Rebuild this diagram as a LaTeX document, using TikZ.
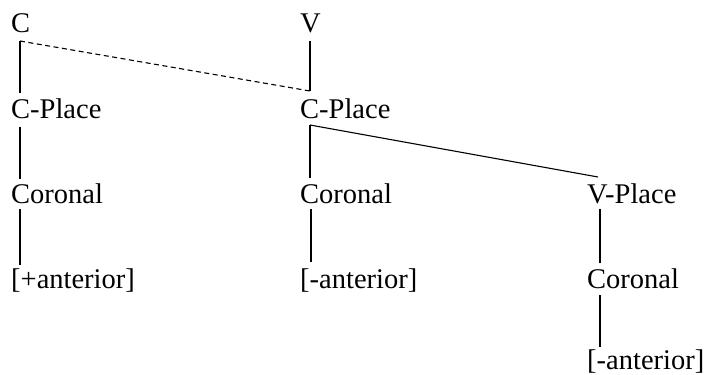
\documentclass[tikz,border=0pt]{standalone}
\usepackage{fontspec}
\setmainfont{Liberation Serif}
\tikzset{
  feat/.style={anchor=base west, inner sep=0pt, font=\fontsize{28.5bp}{32bp}\selectfont},
  assoc/.style={line width=1.1bp},
  link/.style={line width=1.1bp, dash pattern=on 5bp off 3.5bp}
}
\begin{document}
\begin{tikzpicture}[x=1bp, y=-1bp]
        \useasboundingbox (0,0) rectangle (707,374);

        % skeleton
        \node[feat] (c) at (11, 32) {C};
        \node[feat] (v) at (300, 32) {V};

        % place nodes
        \node[feat] (cplace1) at (11, 118) {C-Place};
        \node[feat] (cplace2) at (300, 118) {C-Place};

        \node[feat] (cor1) at (11, 203) {Coronal};
        \node[feat] (cor2) at (300, 203) {Coronal};
        \node[feat] (vplace) at (587, 203) {V-Place};

        \node[feat] (ant1) at (11, 288) {[+anterior]};
        \node[feat] (ant2) at (300, 288) {[-anterior]};
        \node[feat] (cor3) at (587, 288) {Coronal};
        \node[feat] (ant3) at (587, 369) {[-anterior]};

        % left column
        \draw[assoc] ([shift={(9,9)}]c.base west) -- ([shift={(9,-25)}]cplace1.base west);
        \draw[assoc] ([shift={(9,9)}]cplace1.base west) -- ([shift={(9,-24)}]cor1.base west);
        \draw[assoc] ([shift={(9,6)}]cor1.base west) -- ([shift={(9,-23)}]ant1.base west);

        % spreading link
        \draw[link] ([shift={(9,9)}]c.base west) -- ([shift={(10,-27)}]cplace2.base west);

        % middle column
        \draw[assoc] ([shift={(10,9)}]v.base west) -- ([shift={(10,-27)}]cplace2.base west);
        \draw[assoc] ([shift={(10,7)}]cplace2.base west) -- ([shift={(10,-25)}]cor2.base west);
        \draw[assoc] ([shift={(10,7)}]cplace2.base west) -- ([shift={(11,-26)}]vplace.base west);
        \draw[assoc] ([shift={(11,6)}]cor2.base west) -- ([shift={(11,-26)}]ant2.base west);

        % right column
        \draw[assoc] ([shift={(13,6)}]vplace.base west) -- ([shift={(13,-25)}]cor3.base west);
        \draw[assoc] ([shift={(13,7)}]cor3.base west) -- ([shift={(13,-22)}]ant3.base west);
\end{tikzpicture}
\end{document}
